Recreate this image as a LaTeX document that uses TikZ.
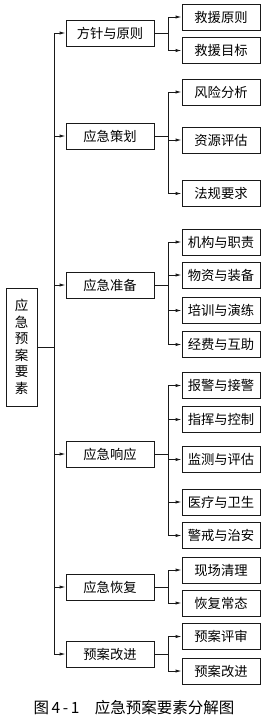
\documentclass[tikz,border=0pt]{standalone}
\usepackage{fontspec}
\newfontfamily\cjk{Noto Sans CJK SC}
\usetikzlibrary{arrows.meta}
\begin{document}
\begin{tikzpicture}[x=1pt,y=-1pt,
  base/.style={draw=black!90, line width=0.8pt, font=\cjk\fontsize{13.3}{15}\selectfont, text=black, inner sep=0pt},
  rootbox/.style={base, minimum width=31pt, minimum height=118pt, align=center, font=\cjk\fontsize{13.5}{16.5}\selectfont},
  lvone/.style={base, minimum width=88pt, minimum height=26pt},
  lvtwo/.style={base, minimum width=78pt, minimum height=26pt},
  conn/.style={draw=black!90, line width=0.8pt},
  arr/.style={conn, -{Latex[length=6pt,width=3.2pt]}},
  caption/.style={font=\cjk\fontsize{15.5}{17}\selectfont, text=black}]
\useasboundingbox (0,0) rectangle (270,723);
\coordinate (tr) at (54,0);
\coordinate (br) at (168,0);
% root
\node[rootbox] (root) at (21.5,347) {应\\急\\预\\案\\要\\素};
% level 1
\node[lvone] (a) at (110,33) {方针与原则};
\node[lvone] (b) at (110,136) {应急策划};
\node[lvone] (c) at (110,285) {应急准备};
\node[lvone] (d) at (110,454) {应急响应};
\node[lvone] (e) at (110,587) {应急恢复};
\node[lvone] (f) at (110,654) {预案改进};
% level 2
\node[lvtwo] (a1) at (221,17) {救援原则};
\node[lvtwo] (a2) at (221,50.5) {救援目标};
\node[lvtwo] (b1) at (221,92) {风险分析};
\node[lvtwo] (b2) at (221,140) {资源评估};
\node[lvtwo] (b3) at (221,193.5) {法规要求};
\node[lvtwo] (c1) at (221,242) {机构与职责};
\node[lvtwo] (c2) at (221,275) {物资与装备};
\node[lvtwo] (c3) at (221,310.5) {培训与演练};
\node[lvtwo] (c4) at (221,344.5) {经费与互助};
\node[lvtwo] (d1) at (221,385.5) {报警与接警};
\node[lvtwo] (d2) at (221,419.5) {指挥与控制};
\node[lvtwo] (d3) at (221,459.5) {监测与评估};
\node[lvtwo] (d4) at (221,502) {医疗与卫生};
\node[lvtwo] (d5) at (221,535.5) {警戒与治安};
\node[lvtwo] (e1) at (221,570) {现场清理};
\node[lvtwo] (e2) at (221,603) {恢复常态};
\node[lvtwo] (f1) at (221,636.5) {预案评审};
\node[lvtwo] (f2) at (221,671) {预案改进};
% caption
\node[caption] (cap) at (134,708) {图\,4\,-\,1\quad 应急预案要素分解图};
% trunk
\draw[conn] (root.east) -- (root.east -| tr);
\draw[conn] (tr |- a.west) -- (tr |- f.west);
\foreach \n in {a,b,c,d,e,f} \draw[arr] (tr |- \n.west) -- (\n.west);
% branches
\foreach \p/\first/\last/\kids in {a/a1/a2/{a1,a2}, b/b1/b3/{b1,b2,b3}, c/c1/c4/{c1,c2,c3,c4}, d/d1/d5/{d1,d2,d3,d4,d5}, e/e1/e2/{e1,e2}, f/f1/f2/{f1,f2}}{
  \draw[conn] (\p.east) -- (\p.east -| br);
  \draw[conn] (br |- \first.west) -- (br |- \last.west);
  \foreach \k in \kids \draw[arr] (br |- \k.west) -- (\k.west);
}
\end{tikzpicture}
\end{document}
